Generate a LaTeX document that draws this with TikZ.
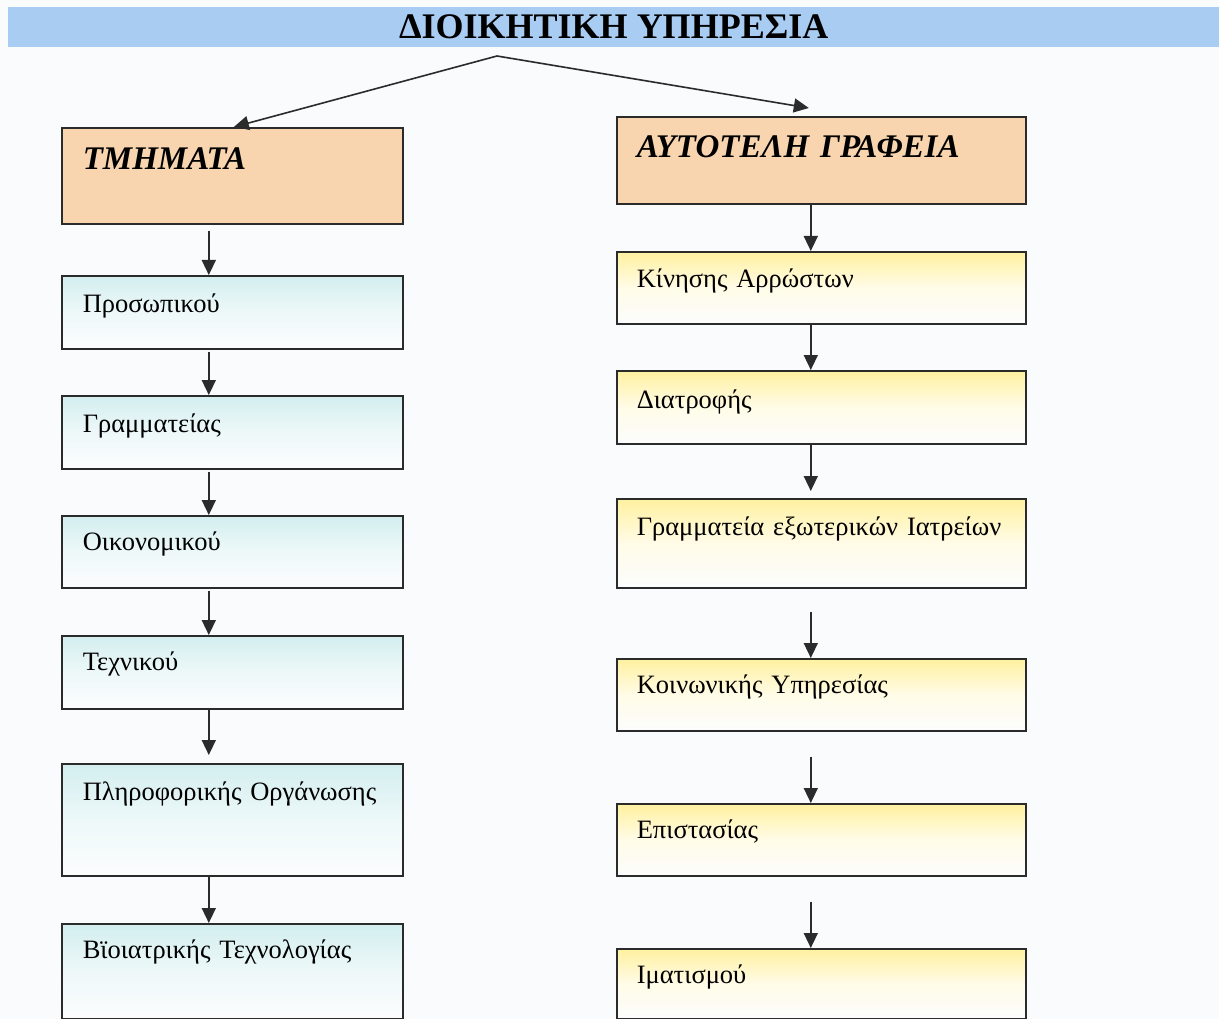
\documentclass[tikz,border=0pt]{standalone}
\usepackage{fontspec}
\setmainfont{Liberation Serif}
\usetikzlibrary{arrows.meta}
\definecolor{bgc}{HTML}{F9FBFC}
\definecolor{bannerc}{HTML}{A9CCF2}
\definecolor{orangec}{HTML}{F8D5AF}
\definecolor{cyanc}{HTML}{D3EEEF}
\definecolor{yellowc}{HTML}{FFF1A0}
\definecolor{linec}{HTML}{2B2B2B}
\tikzset{
  box/.style={draw=linec, line width=1.6pt, anchor=north west, inner ysep=0pt,
    align=left, font=\fontsize{26.5}{30}\selectfont},
  lbox/.style={box, inner xsep=21pt, text width=299pt},
  rbox/.style={box, inner xsep=20pt, text width=369pt},
  cyanfill/.style={top color=cyanc, bottom color=white!50!bgc, middle color=white!60!cyanc},
  yellowfill/.style={top color=yellowc, bottom color=white!50!bgc, middle color=white!75!yellowc},
  headfill/.style={fill=orangec, font=\fontsize{33}{36}\selectfont\bfseries\itshape},
  arr/.style={line width=1.6pt, draw=linec, -{Triangle[length=15pt,width=14pt]}}
}
\begin{document}
\begin{tikzpicture}[x=1pt,y=-1pt]
\useasboundingbox (0,0) rectangle (1219,1019);
\fill[bgc] (0,0) rectangle (1219,1019);
\node[fill=bannerc, anchor=north west, minimum width=1211pt, minimum height=40pt, inner sep=0pt,
  font=\fontsize{36}{40}\selectfont\bfseries] (title) at (8,7) {ΔΙΟΙΚΗΤΙΚΗ ΥΠΗΡΕΣΙΑ};
\coordinate (apex) at (497,56);
% left column
\node[lbox, headfill, text height=42pt, text depth=54pt] (tm) at (61,127) {ΤΜΗΜΑΤΑ};
\node[lbox, cyanfill, text height=37pt, text depth=36pt] (p1) at (61,275) {Προσωπικού};
\node[lbox, cyanfill, text height=37pt, text depth=36pt] (p2) at (61,395) {Γραμματείας};
\node[lbox, cyanfill, text height=35pt, text depth=37pt] (p3) at (61,515) {Οικονομικού};
\node[lbox, cyanfill, text height=35pt, text depth=38pt] (p4) at (61,635) {Τεχνικού};
\node[lbox, cyanfill, text height=37pt, text depth=75pt] (p5) at (61,763) {Πληροφορικής Οργάνωσης};
\node[lbox, cyanfill, text height=35pt, text depth=60pt] (p6) at (61,923) {Βϊοιατρικής Τεχνολογίας};
% right column
\node[rbox, headfill, text height=41pt, text depth=46pt] (ag) at (616,116) {ΑΥΤΟΤΕΛΗ ΓΡΑΦΕΙΑ};
\node[rbox, yellowfill, text height=36pt, text depth=36pt] (r1) at (616,251) {Κίνησης Αρρώστων};
\node[rbox, yellowfill, text height=38pt, text depth=35pt] (r2) at (616,370) {Διατροφής};
\node[rbox, yellowfill, text height=37pt, text depth=52pt] (r3) at (616,498) {Γραμματεία εξωτερικών Ιατρείων};
\node[rbox, yellowfill, text height=35pt, text depth=37pt] (r4) at (616,658) {Κοινωνικής Υπηρεσίας};
\node[rbox, yellowfill, text height=35pt, text depth=37pt] (r5) at (616,803) {Επιστασίας};
\node[rbox, yellowfill, text height=35pt, text depth=35pt] (r6) at (616,948) {Ιματισμού};
% top arrows
\draw[arr] (apex) -- ([xshift=1.5pt]tm.north);
\draw[arr] (apex) -- ([xshift=-12.5pt,yshift=8pt]ag.north);
% left arrows
\draw[arr] ([xshift=-23.5pt,yshift=-6pt]tm.south) -- ([xshift=-23.5pt]p1.north);
\draw[arr] ([xshift=-23.5pt,yshift=-2pt]p1.south) -- ([xshift=-23.5pt]p2.north);
\draw[arr] ([xshift=-23.5pt,yshift=-2pt]p2.south) -- ([xshift=-23.5pt]p3.north);
\draw[arr] ([xshift=-23.5pt,yshift=-2pt]p3.south) -- ([xshift=-23.5pt]p4.north);
\draw[arr] ([xshift=-23.5pt]p4.south) -- ([xshift=-23.5pt,yshift=8pt]p5.north);
\draw[arr] ([xshift=-23.5pt]p5.south) -- ([xshift=-23.5pt]p6.north);
% right arrows
\draw[arr] ([xshift=-10.5pt]ag.south) -- ([xshift=-10.5pt]r1.north);
\draw[arr] ([xshift=-10.5pt]r1.south) -- ([xshift=-10.5pt]r2.north);
\draw[arr] ([xshift=-10.5pt]r2.south) -- ([xshift=-10.5pt,yshift=7pt]r3.north);
\draw[arr] ([xshift=-10.5pt,yshift=-23pt]r3.south) -- ([xshift=-10.5pt]r4.north);
\draw[arr] ([xshift=-10.5pt,yshift=-25pt]r4.south) -- ([xshift=-10.5pt]r5.north);
\draw[arr] ([xshift=-10.5pt,yshift=-25pt]r5.south) -- ([xshift=-10.5pt]r6.north);
\end{tikzpicture}
\end{document}
